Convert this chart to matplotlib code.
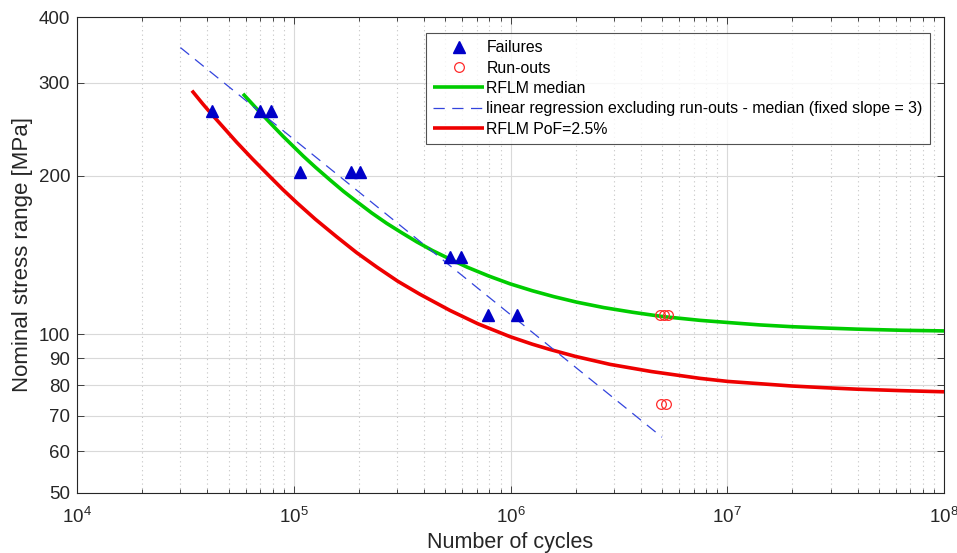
import matplotlib
matplotlib.use("Agg")
import matplotlib.pyplot as plt
from matplotlib.ticker import FixedLocator, NullFormatter, LogLocator, FixedFormatter

plt.rcParams['font.family'] = ['Liberation Sans', 'DejaVu Sans']

# Failures
fail_N = [42000, 69800, 78500, 107000, 183700, 202000, 526000, 591000, 787000, 1070000]
fail_S = [265, 265, 265, 203, 203, 203, 140, 140, 109, 109]

# Run-outs
run_N = [4.92e6, 5.1e6, 5.33e6, 4.94e6, 5.21e6]
run_S = [108.8, 108.8, 108.8, 73.9, 73.9]

# RFLM median curve
med_N = [58300, 67600, 77700, 89100, 110700, 125900, 147000, 169800, 195200,
         229100, 268400, 316200, 369300, 436500, 526000, 631000, 794300, 994700,
         1.259e6, 1.585e6, 2.02e6, 2.692e6, 3.67e6, 5.012e6, 7.49e6, 1.008e7,
         1.413e7, 1.98e7, 2.818e7, 3.95e7, 6.31e7, 1e8]
med_S = [286.0, 267.7, 252.0, 237.7, 217.8, 207.5, 196.3, 186.7, 178.6,
         169.9, 162.4, 155.7, 149.8, 144.2, 138.9, 134.1, 129.0, 124.7,
         121.0, 117.9, 115.1, 112.4, 110.1, 108.1, 106.3, 105.3,
         104.2, 103.4, 102.8, 102.3, 101.8, 101.5]

# Linear regression (slope 3)
lin_N = [3.0e4, 5.0e6]
lin_S = [350, 63.8]

# RFLM PoF = 2.5 %
pof_N = [33900, 38000, 41100, 47900, 54500, 64600, 77700, 89100, 103200,
         125900, 157900, 195000, 241400, 302000, 382400, 526000, 708000, 994700,
         1.259e6, 1.52e6, 1.995e6, 2.88e6, 4.467e6, 7.49e6, 1.008e7, 1.413e7,
         1.98e7, 2.818e7, 3.95e7, 6.31e7, 1e8]
pof_S = [290.0, 273.8, 263.7, 245.7, 231.5, 215.0, 199.1, 188.2, 177.8,
         165.3, 153.1, 142.9, 134.2, 126.1, 119.1, 111.0, 104.7, 99.0,
         95.8, 93.6, 90.8, 87.7, 85.0, 82.5, 81.4, 80.6,
         79.8, 79.2, 78.7, 78.2, 77.8]

yticks = [50, 60, 70, 80, 90, 100, 200, 300, 400]
ytick_labels = ['50', '60', '70', '80', '90', '100', '200', '300', '400']

fig = plt.figure(figsize=(9.57, 5.53), dpi=100)
ax = fig.add_axes([77/957, 1-493/553, (944-77)/957, (493-17)/553])
ax.set_xscale('log')
ax.set_yscale('log')

ax.plot(fail_N, fail_S, linestyle='none', marker='^', color='#0000c8', ms=8.5,
        label='Failures', zorder=5)
ax.plot(run_N, run_S, linestyle='none', marker='o', mfc='none', mec='#ff2a2a',
        ms=7, mew=0.9, label='Run-outs', zorder=5)
ax.plot(med_N, med_S, color='#00cc00', lw=2.6, label='RFLM median', zorder=3,
        solid_capstyle='butt', solid_joinstyle='round')
ax.plot(lin_N, lin_S, color='#3344dd', lw=0.9, dashes=(9, 6),
        label='linear regression excluding run-outs - median (fixed slope = 3)', zorder=4)
ax.plot(pof_N, pof_S, color='#ee0000', lw=2.6, label='RFLM PoF=2.5%', zorder=3,
        solid_capstyle='butt', solid_joinstyle='round')

ax.set_xlim(1e4, 1e8)
ax.set_ylim(50, 400)
ax.yaxis.set_major_locator(FixedLocator(yticks))
ax.yaxis.set_major_formatter(FixedFormatter(ytick_labels))
ax.yaxis.set_minor_locator(FixedLocator([]))
ax.yaxis.set_minor_formatter(NullFormatter())
ax.xaxis.set_major_locator(LogLocator(base=10, numticks=10))
ax.xaxis.set_minor_locator(LogLocator(base=10, subs=range(2, 10), numticks=20))
ax.xaxis.set_minor_formatter(NullFormatter())

ax.grid(True, which='major', color='#d9d9d9', lw=0.8, ls='-')
ax.grid(True, which='minor', axis='x', color='#c4c4c4', lw=0.8, ls=(0, (1, 3)))
ax.set_axisbelow(True)

ax.tick_params(which='both', direction='in', top=True, right=True,
               colors='#262626', labelsize=13.5, length=5, width=0.6)
ax.tick_params(axis='x', which='major', pad=10)
ax.tick_params(axis='y', which='major', pad=5)
ax.tick_params(which='minor', length=3)
for sp in ax.spines.values():
    sp.set_color('#262626')
    sp.set_linewidth(0.8)

ax.set_xlabel('Number of cycles', fontsize=15.5, color='#262626', labelpad=3.5)
ax.set_ylabel('Nominal stress range [MPa]', fontsize=16, color='#262626', labelpad=4)

leg = ax.legend(loc='upper right', bbox_to_anchor=(930/957, 1-33/553),
                bbox_transform=fig.transFigure, fontsize=11.4, frameon=True,
                fancybox=False, edgecolor='#262626', handlelength=3.2,
                borderpad=0.45, labelspacing=0.34, handletextpad=0.15,
                borderaxespad=0)
leg.get_frame().set_linewidth(0.8)

fig.savefig('out.png', dpi=100)
